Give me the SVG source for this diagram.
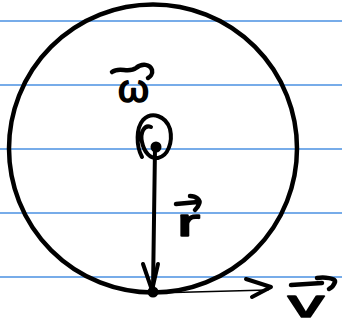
<svg xmlns="http://www.w3.org/2000/svg" width="342" height="325" viewBox="0 0 342 325">
<style>
.rule{stroke:#4a90e2;stroke-width:1.5}
.ink{fill:none;stroke:#000;stroke-linecap:round;stroke-linejoin:round}
.lbl{font-family:"Liberation Sans",Arial,sans-serif;font-size:38px;fill:#000;stroke:#000;stroke-width:1.6;stroke-linejoin:round}
</style>
<rect width="342" height="325" fill="#fff"/>
<g id="paper">
<line class="rule" x1="0" y1="21" x2="342" y2="21"/>
<line class="rule" x1="0" y1="85" x2="342" y2="85"/>
<line class="rule" x1="0" y1="149" x2="342" y2="149"/>
<line class="rule" x1="0" y1="213" x2="342" y2="213"/>
<line class="rule" x1="0" y1="277" x2="342" y2="277"/>
</g>
<g id="circle"><circle class="ink" cx="153" cy="148.5" r="144" stroke-width="4.5"/></g>
<g id="center">
<path class="ink" stroke-width="4" d="M151 127 C144 124 140 133 142 142 C144 152 150 159 158 158 C168 156 173 142 170 129 C166 116 152 111 143 120 C136 128 136 146 142 157"/>
<circle cx="156" cy="147" r="5.5" fill="#000"/>
</g>
<g id="contact"><circle cx="153" cy="292" r="5.5" fill="#000"/></g>
<g id="connectors">
<path class="ink" stroke-width="4" d="M155 148 L153 290"/>
<path class="ink" stroke-width="4" d="M143 264 L152 290 L158 264"/>
<path class="ink" stroke-width="1.5" d="M155 293 L268 290"/>
<path class="ink" stroke-width="4" d="M246 279 L271 287 L252 297"/>
</g>
<g id="omega">
<path class="ink" stroke-width="4.5" d="M112 72 C120 66 128 74 136 68 C142 63 150 64 152 70 C153 74 150 77 148 78"/>
<text class="lbl" x="118" y="102" textLength="31" lengthAdjust="spacingAndGlyphs">ω</text>
</g>
<g id="r">
<path class="ink" stroke-width="4.5" d="M176 204 L198 202 M190 196 C196 196 201 200 199 204 C198 207 196 209 195 210"/>
<text class="lbl" x="177" y="236" textLength="23" lengthAdjust="spacingAndGlyphs">r</text>
</g>
<g id="v">
<path class="ink" stroke-width="4.5" d="M291 285 L322 283 M317 278 C324 277 336 278 335 282 C334 285 331 288 329 289"/>
<text class="lbl" x="288" y="317" textLength="36" lengthAdjust="spacingAndGlyphs">v</text>
</g>
</svg>
